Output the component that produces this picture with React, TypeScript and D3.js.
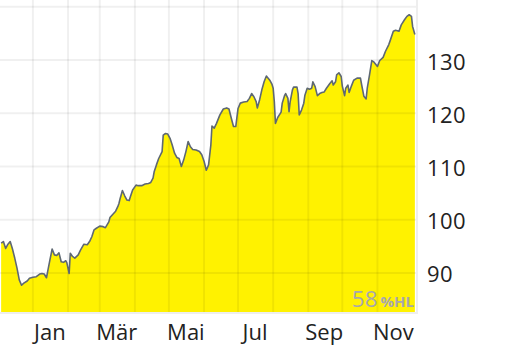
import React from "react";
import * as d3 from "d3";

const dates: string[] = [
  "2022-12-04","2022-12-06","2022-12-08","2022-12-10","2022-12-12","2022-12-14","2022-12-16","2022-12-18","2022-12-20","2022-12-22",
  "2022-12-24","2022-12-27","2022-12-29","2023-01-01","2023-01-04","2023-01-07","2023-01-09","2023-01-11","2023-01-13","2023-01-14",
  "2023-01-16","2023-01-18","2023-01-20","2023-01-22","2023-01-24","2023-01-26","2023-01-28","2023-01-30","2023-01-31","2023-02-02",
  "2023-02-03","2023-02-05","2023-02-07","2023-02-10","2023-02-12","2023-02-15","2023-02-18","2023-02-20","2023-02-22","2023-02-24",
  "2023-02-26","2023-03-01","2023-03-04","2023-03-06","2023-03-09","2023-03-10","2023-03-12","2023-03-15","2023-03-17","2023-03-18",
  "2023-03-19","2023-03-21","2023-03-23","2023-03-25","2023-03-27","2023-03-28","2023-03-30","2023-04-02","2023-04-04","2023-04-07",
  "2023-04-10","2023-04-13","2023-04-15","2023-04-17","2023-04-18","2023-04-20","2023-04-22","2023-04-25","2023-04-26","2023-04-28",
  "2023-04-30","2023-05-02","2023-05-04","2023-05-06","2023-05-08","2023-05-10","2023-05-12","2023-05-14","2023-05-16","2023-05-18",
  "2023-05-20","2023-05-22","2023-05-25","2023-05-28","2023-05-30","2023-06-01","2023-06-03","2023-06-05","2023-06-07","2023-06-08",
  "2023-06-10","2023-06-12","2023-06-15","2023-06-18","2023-06-21","2023-06-23","2023-06-25","2023-06-27","2023-06-29","2023-07-01",
  "2023-07-03","2023-07-06","2023-07-09","2023-07-11","2023-07-13","2023-07-15","2023-07-17","2023-07-18","2023-07-20","2023-07-22",
  "2023-07-24","2023-07-26","2023-07-29","2023-07-31","2023-08-01","2023-08-02","2023-08-03","2023-08-05","2023-08-08","2023-08-09",
  "2023-08-11","2023-08-12","2023-08-14","2023-08-15","2023-08-16","2023-08-18","2023-08-19","2023-08-22","2023-08-23","2023-08-24",
  "2023-08-26","2023-08-28","2023-08-29","2023-08-31","2023-09-02","2023-09-04","2023-09-05","2023-09-07","2023-09-09","2023-09-11",
  "2023-09-13","2023-09-15","2023-09-17","2023-09-20","2023-09-22","2023-09-23","2023-09-25","2023-09-26","2023-09-28","2023-09-30",
  "2023-10-01","2023-10-03","2023-10-04","2023-10-06","2023-10-07","2023-10-09","2023-10-11","2023-10-14","2023-10-17","2023-10-18",
  "2023-10-20","2023-10-22","2023-10-23","2023-10-25","2023-10-27","2023-10-29","2023-11-01","2023-11-03","2023-11-06","2023-11-08",
  "2023-11-11","2023-11-12","2023-11-15","2023-11-17","2023-11-20","2023-11-22","2023-11-25","2023-11-27","2023-11-29","2023-12-01",
  "2023-12-02","2023-12-04"
];

const values: number[] = [
  95.6,95.9,94.6,95.4,95.9,94.5,92.8,90.9,88.7,87.7,
  88.1,88.5,89.0,89.2,89.3,89.8,89.9,89.8,89.1,90.2,
  92.4,94.5,93.4,93.3,93.8,92.1,92.0,92.3,91.9,89.9,
  93.7,93.1,92.8,93.4,94.3,95.4,95.3,95.9,96.8,98.1,
  98.4,98.8,98.7,98.5,99.6,100.4,100.9,101.6,102.5,103.1,
  104.0,105.5,104.5,103.7,103.6,104.3,105.6,106.5,106.4,106.4,
  106.7,106.8,107.0,107.8,109.0,110.3,111.5,112.8,115.9,116.2,
  116.1,115.3,114.0,112.5,111.7,111.5,110.0,111.2,112.8,114.7,
  113.7,113.2,113.1,112.8,112.2,111.0,109.3,110.3,114.0,117.6,
  117.2,118.1,119.7,120.8,121.0,120.8,119.1,117.5,117.5,120.9,
  121.9,122.1,122.2,122.8,123.7,123.1,122.2,121.0,122.5,124.4,
  125.9,127.0,126.2,125.4,124.7,122.2,118.1,119.2,120.2,121.9,
  123.3,123.7,122.8,120.3,122.2,124.4,124.9,124.9,123.7,119.7,
  120.6,121.9,123.4,124.7,124.5,124.7,125.9,125.0,123.3,123.7,
  123.9,124.0,124.7,125.6,126.1,125.3,125.9,127.2,127.6,126.9,
  125.1,123.3,124.7,125.3,123.9,125.1,126.2,126.6,126.6,125.4,
  123.2,122.7,124.7,127.2,129.9,129.6,128.8,129.9,130.5,131.6,
  132.9,133.5,135.4,135.6,135.4,136.6,137.6,138.2,138.5,138.2,
  136.3,134.8
];

const yTicks: number[] = [90, 100, 110, 120, 130, 140];
const yLabels: number[] = [90, 100, 110, 120, 130];
const monthStarts: string[] = [
  "2023-01-01","2023-02-01","2023-03-01","2023-04-01","2023-05-01","2023-06-01",
  "2023-07-01","2023-08-01","2023-09-01","2023-10-01","2023-11-01"
];
const xLabelDates: string[] = ["2023-01-16","2023-03-16","2023-05-16","2023-07-16","2023-09-15","2023-11-15"];
const xLabels: string[] = ["Jan", "Mär", "Mai", "Jul", "Sep", "Nov"];
const watermarkValue = "58";
const watermarkUnit = "%HL";

const W = 512;
const H = 346;
const plotW = 416;
const plotH = 312;
const font = "'Open Sans', 'Noto Sans', sans-serif";

export default function App() {
  const parse = d3.utcParse("%Y-%m-%d");
  const data = dates.map((d, i) => ({ date: parse(d) as Date, value: values[i] }));
  const x = d3
    .scaleUtc()
    .domain([parse("2022-12-03") as Date, parse("2023-12-05") as Date])
    .range([0, plotW]);
  const y = d3.scaleLinear().domain([82.67, 141.27]).range([plotH, 0]);

  const area = d3
    .area<{ date: Date; value: number }>()
    .x((d) => x(d.date))
    .y0(plotH)
    .y1((d) => y(d.value));
  const line = d3
    .line<{ date: Date; value: number }>()
    .x((d) => x(d.date))
    .y((d) => y(d.value));

  return (
    <svg
      width={W}
      height={H}
      style={{ position: "absolute", left: 0, top: 0, background: "#fff" }}
    >
      <path d={area(data) ?? ""} fill="#fff200" />
      <g stroke="#000" strokeOpacity={0.06} strokeWidth={2}>
        {yTicks.map((t) => (
          <line key={"h" + t} x1={0} x2={plotW} y1={y(t)} y2={y(t)} />
        ))}
        {monthStarts.map((m) => {
          const xx = x(parse(m) as Date);
          return <line key={"v" + m} x1={xx} x2={xx} y1={0} y2={plotH} />;
        })}
      </g>
      <path d={line(data) ?? ""} fill="none" stroke="#5e6872" strokeWidth={1.6} strokeLinejoin="round" />
      <line x1={plotW + 1} x2={plotW + 1} y1={0} y2={plotH + 2} stroke="#eeeeee" strokeWidth={2} />
      <line x1={0} x2={plotW + 2} y1={plotH + 1} y2={plotH + 1} stroke="#eeeeee" strokeWidth={2} />
      <text x={plotW - 2} y={plotH - 5.5} textAnchor="end" fontFamily={font} fill="#a7a7ad">
        <tspan fontSize={22.5}>{watermarkValue}</tspan>
        <tspan fontSize={15} fontWeight="bold" dx={3}>{watermarkUnit}</tspan>
      </text>
      {yLabels.map((t) => (
        <text key={"yl" + t} x={427} y={y(t) + 9.5} fontFamily={font} fontSize={22} letterSpacing={0.4} fill="#222">
          {t}
        </text>
      ))}
      {xLabels.map((l, i) => (
        <text
          key={"xl" + l}
          x={x(parse(xLabelDates[i]) as Date)}
          y={340}
          textAnchor="middle"
          fontFamily={font}
          fontSize={22}
          fill="#222"
        >
          {l}
        </text>
      ))}
    </svg>
  );
}
